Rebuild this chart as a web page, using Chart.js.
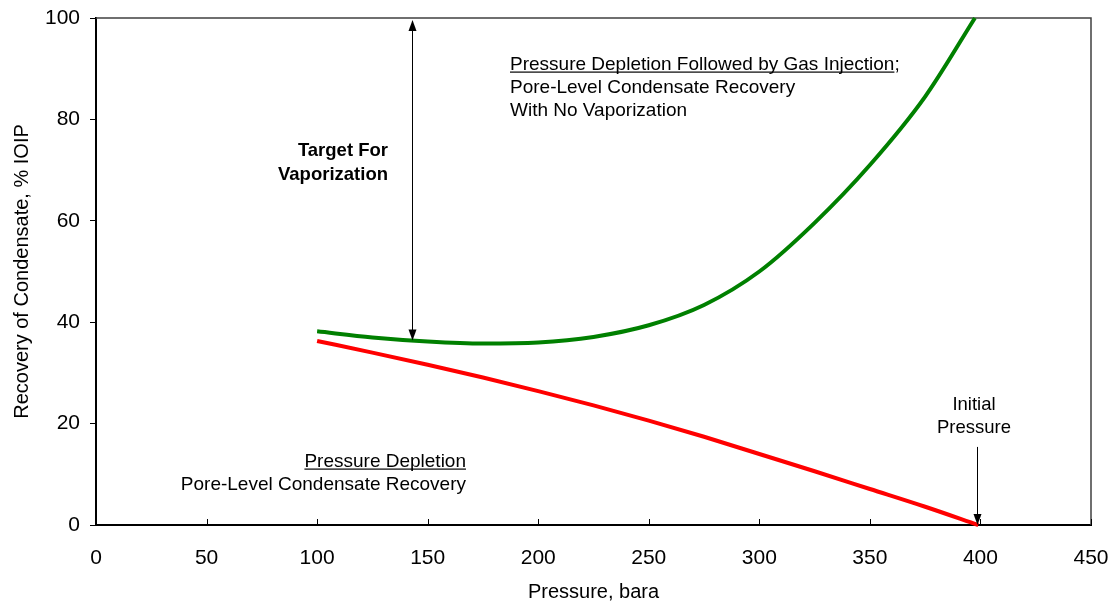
<!DOCTYPE html>
<html>
<head>
<meta charset="utf-8">
<script src="https://cdn.jsdelivr.net/npm/chart.js@4"></script>
<style>
  html, body { margin: 0; background: #fff; }
  #wrap { width: 1115px; height: 607px; }
</style>
</head>
<body>
<div id="wrap"><canvas id="chart"></canvas></div>
<script>
// Recovery curves (pressure in bara, recovery in % IOIP)
const gasInjP   = [100, 125, 150, 175, 200, 225, 250, 275, 300, 325, 350, 375, 397.5];
const gasInjRec = [38.2, 37.0, 36.2, 35.8, 36.0, 37.1, 39.4, 43.4, 50.0, 59.6, 71.0, 84.5, 100];
const depletionP   = [100, 125, 150, 175, 200, 225, 250, 275, 300, 325, 350, 375, 399];
const depletionRec = [36.3, 34.0, 31.6, 29.1, 26.4, 23.6, 20.6, 17.4, 14.0, 10.6, 7.1, 3.6, 0];

const xTicks = [0, 50, 100, 150, 200, 250, 300, 350, 400, 450];
const yTicks = [0, 20, 40, 60, 80, 100];

// arrow positions in data units
const targetArrow = { x: 143, yTop: 100, yBottom: 36.2 };
const initialArrow = { x: 398.5, yTop: 15.4, yBottom: 0 };

const FONT = '"Liberation Sans", Arial, sans-serif';
const pts = (xs, ys) => xs.map((x, i) => ({ x, y: ys[i] }));

function arrowHead(ctx, x, y, dir) {
  // dir: 1 points down, -1 points up
  ctx.beginPath();
  ctx.moveTo(x, y);
  ctx.lineTo(x - 4, y - dir * 11);
  ctx.lineTo(x + 4, y - dir * 11);
  ctx.closePath();
  ctx.fill();
}

function text(ctx, str, x, y, align, { bold = false, underline = false, size = 19 } = {}) {
  ctx.font = `${bold ? 'bold ' : ''}${size}px ${FONT}`;
  ctx.textAlign = align;
  ctx.textBaseline = 'alphabetic';
  ctx.fillText(str, x, y);
  if (underline) {
    const w = ctx.measureText(str).width;
    const x0 = align === 'right' ? x - w : align === 'center' ? x - w / 2 : x;
    ctx.fillRect(x0, y + 2, w, 1.2);
  }
}

const figure = {
  id: 'figure',
  beforeDatasetsDraw(chart) {
    const { ctx, chartArea: a, scales: { x } } = chart;
    ctx.save();
    // plot frame: top and right edges
    ctx.strokeStyle = '#404040';
    ctx.lineWidth = 1.5;
    ctx.beginPath();
    ctx.moveTo(a.left, a.top);
    ctx.lineTo(a.right, a.top);
    ctx.lineTo(a.right, a.bottom);
    ctx.stroke();
    // inward x ticks
    ctx.strokeStyle = '#000';
    ctx.lineWidth = 1;
    xTicks.forEach(v => {
      const px = Math.round(x.getPixelForValue(v)) + 0.5;
      ctx.beginPath();
      ctx.moveTo(px, a.bottom);
      ctx.lineTo(px, a.bottom - 6);
      ctx.stroke();
    });
    ctx.restore();
  },
  afterDatasetsDraw(chart) {
    const { ctx, scales: { x, y } } = chart;
    ctx.save();
    ctx.fillStyle = '#000';
    ctx.strokeStyle = '#000';
    ctx.lineWidth = 1;

    // double arrow: target for vaporization
    const tx = Math.round(x.getPixelForValue(targetArrow.x)) + 0.5;
    const tTop = y.getPixelForValue(targetArrow.yTop) + 2;
    const tBot = y.getPixelForValue(targetArrow.yBottom) - 1;
    ctx.beginPath();
    ctx.moveTo(tx, tTop + 6);
    ctx.lineTo(tx, tBot - 6);
    ctx.stroke();
    arrowHead(ctx, tx, tTop, -1);
    arrowHead(ctx, tx, tBot, 1);

    // initial pressure arrow
    const ix = Math.round(x.getPixelForValue(initialArrow.x)) + 0.5;
    const iTop = y.getPixelForValue(initialArrow.yTop);
    const iBot = y.getPixelForValue(initialArrow.yBottom);
    ctx.beginPath();
    ctx.moveTo(ix, iTop);
    ctx.lineTo(ix, iBot - 6);
    ctx.stroke();
    arrowHead(ctx, ix, iBot, 1);

    // labels
    text(ctx, 'Pressure Depletion Followed by Gas Injection', 510, 69.5, 'left', { underline: true });
    ctx.font = `19px ${FONT}`;
    const w1 = ctx.measureText('Pressure Depletion Followed by Gas Injection').width;
    text(ctx, ';', 510 + w1, 69.5, 'left');
    text(ctx, 'Pore-Level Condensate Recovery', 510, 92.5, 'left');
    text(ctx, 'With No Vaporization', 510, 115.5, 'left');

    text(ctx, 'Target For', 388, 156, 'right', { bold: true, size: 18.5 });
    text(ctx, 'Vaporization', 388, 180, 'right', { bold: true, size: 18.5 });

    text(ctx, 'Pressure Depletion', 466, 466.5, 'right', { underline: true });
    text(ctx, 'Pore-Level Condensate Recovery', 466, 489.5, 'right');

    text(ctx, 'Initial', 974, 409.5, 'center', { size: 18.5 });
    text(ctx, 'Pressure', 974, 432.5, 'center', { size: 18.5 });
    ctx.restore();
  }
};

new Chart(document.getElementById('chart'), {
  type: 'scatter',
  data: {
    datasets: [
      {
        label: 'Pressure Depletion Followed by Gas Injection',
        data: pts(gasInjP, gasInjRec),
        showLine: true, borderColor: '#008000', backgroundColor: '#008000',
        borderWidth: 4, pointRadius: 0, cubicInterpolationMode: 'monotone', clip: 4
      },
      {
        label: 'Pressure Depletion',
        data: pts(depletionP, depletionRec),
        showLine: true, borderColor: '#ff0000', backgroundColor: '#ff0000',
        borderWidth: 4, pointRadius: 0, cubicInterpolationMode: 'monotone', clip: 4
      }
    ]
  },
  options: {
    responsive: true, maintainAspectRatio: false, animation: false,
    layout: { padding: { top: 18, right: 24, left: 0, bottom: 0 } },
    plugins: { legend: { display: false }, tooltip: { enabled: false } },
    scales: {
      x: {
        type: 'linear', min: 0, max: 450,
        afterBuildTicks: s => { s.ticks = xTicks.map(v => ({ value: v })); },
        afterFit: s => { s.height = 82; s.paddingLeft = 0; s.paddingRight = 0; },
        grid: { display: true, drawOnChartArea: false, drawTicks: false },
        border: { display: true, color: '#000', width: 2 },
        ticks: { color: '#000', padding: 21, font: { family: FONT, size: 21 } },
        title: { display: true, text: 'Pressure, bara', color: '#000',
          padding: { top: 0, bottom: 3 }, font: { family: FONT, size: 20 } }
      },
      y: {
        type: 'linear', min: 0, max: 100,
        afterBuildTicks: s => { s.ticks = yTicks.map(v => ({ value: v })); },
        afterFit: s => { s.width = 96; s.paddingTop = 0; s.paddingBottom = 0; },
        grid: { display: true, drawOnChartArea: false, drawTicks: true, tickLength: 6, color: '#000' },
        border: { display: true, color: '#000', width: 2 },
        ticks: { color: '#000', padding: 10, font: { family: FONT, size: 21 } },
        title: { display: true, text: 'Recovery of Condensate, % IOIP', color: '#000',
          padding: { top: 10, bottom: 0 }, font: { family: FONT, size: 20 } }
      }
    }
  },
  plugins: [figure]
});
</script>
</body>
</html>
